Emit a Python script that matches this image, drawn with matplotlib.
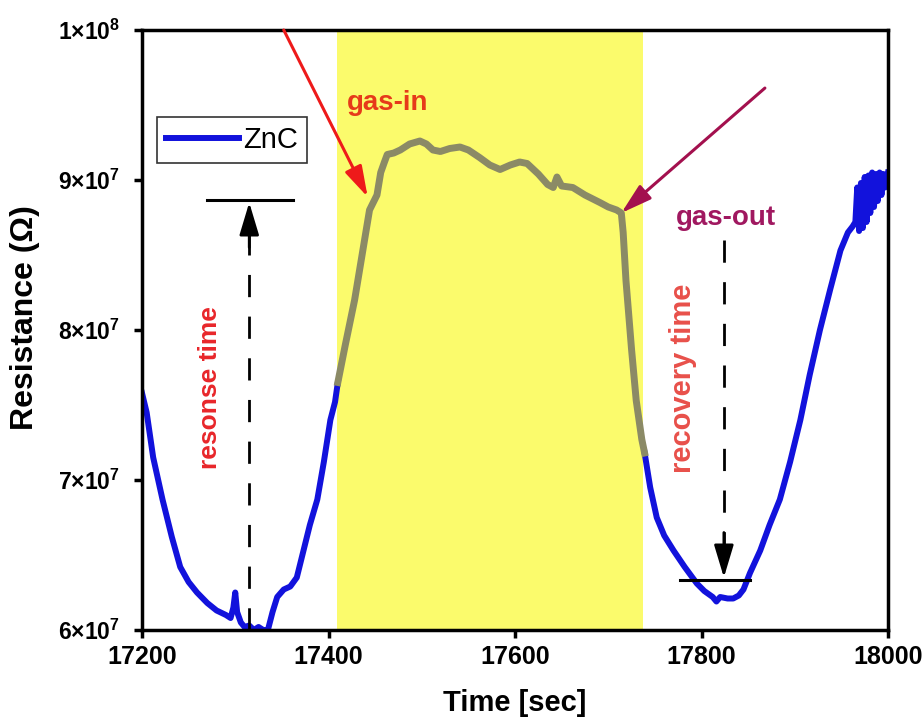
import matplotlib
matplotlib.use("Agg")
import matplotlib.pyplot as plt
import numpy as np

plt.rcParams['font.family'] = ['Liberation Sans', 'DejaVu Sans']
plt.rcParams['mathtext.fontset'] = 'custom'
plt.rcParams['mathtext.rm'] = 'Liberation Sans:bold'
plt.rcParams['mathtext.bf'] = 'Liberation Sans:bold'
plt.rcParams['mathtext.default'] = 'rm'

SCALE = 1e7

# ---- data (time in s, resistance in units of 1e7 Ohm) ----
t_before = [17200, 17205, 17212, 17222, 17232, 17241, 17250, 17259, 17270, 17280,
            17290, 17295, 17298, 17300, 17302, 17306, 17310, 17315, 17320, 17325,
            17330, 17335, 17340, 17345, 17352, 17359, 17366, 17372, 17380, 17388,
            17395, 17402, 17407, 17410]
r_before = [7.58, 7.45, 7.15, 6.87, 6.62, 6.42, 6.32, 6.25, 6.18, 6.13,
            6.10, 6.08, 6.15, 6.25, 6.12, 6.05, 6.02, 6.03, 6.00, 6.02,
            6.00, 6.00, 6.12, 6.22, 6.27, 6.29, 6.35, 6.50, 6.70, 6.87,
            7.12, 7.40, 7.52, 7.65]

t_gas = [17410, 17418, 17428, 17436, 17444, 17452, 17456, 17460, 17463, 17470,
         17477, 17487, 17498, 17505, 17512, 17520, 17530, 17541, 17550, 17562,
         17573, 17584, 17595, 17605, 17613, 17625, 17635, 17641, 17645, 17650,
         17662, 17675, 17691, 17700, 17709, 17714, 17716, 17719, 17725, 17730,
         17736, 17739]
r_gas = [7.65, 7.90, 8.20, 8.50, 8.80, 8.90, 9.05, 9.12, 9.17, 9.18,
         9.20, 9.24, 9.26, 9.24, 9.20, 9.19, 9.21, 9.22, 9.20, 9.15,
         9.10, 9.07, 9.10, 9.12, 9.11, 9.04, 8.97, 8.95, 9.02, 8.96,
         8.95, 8.90, 8.85, 8.82, 8.80, 8.78, 8.65, 8.33, 7.87, 7.53,
         7.27, 7.18]

t_after = [17739, 17745, 17752, 17760, 17770, 17782, 17795, 17803, 17812, 17816,
           17820, 17828, 17834, 17840, 17845, 17852, 17863, 17873, 17884, 17895,
           17906, 17916, 17927, 17938, 17949, 17957, 17962, 17965, 17967, 17969,
           17971, 17973, 17975, 17977, 17979, 17981, 17983, 17985, 17987, 17989,
           17991, 17993, 17995, 17997, 18000]
r_after = [7.18, 6.95, 6.75, 6.63, 6.53, 6.42, 6.31, 6.26, 6.22, 6.19,
           6.22, 6.21, 6.21, 6.23, 6.27, 6.38, 6.53, 6.70, 6.87, 7.12,
           7.40, 7.70, 8.00, 8.27, 8.53, 8.65, 8.69, 8.72, 8.95, 8.66,
           8.98, 8.68, 9.02, 8.72, 9.03, 8.78, 9.05, 8.82, 9.04, 8.86,
           9.05, 8.90, 9.04, 8.95, 9.05]

gas_window = [17409, 17737]
x_ticks = [17200, 17400, 17600, 17800, 18000]
y_ticks = [6, 7, 8, 9, 10]
y_tick_labels = [r'$6{\times}10^{7}$', r'$7{\times}10^{7}$', r'$8{\times}10^{7}$',
                 r'$9{\times}10^{7}$', r'$1{\times}10^{8}$']

# response / recovery markers
resp_t, resp_r0, resp_r1 = 17315, 6.0, 8.85
resp_bar = ([17270, 17362], 8.867)
rec_t, rec_r0, rec_r1 = 17824, 8.60, 6.35
rec_bar = ([17777, 17852], 6.333)

fig = plt.figure(figsize=(9.23, 7.24), dpi=100)
ax = fig.add_axes([142/923, 94/724, 746/923, 600/724])

ax.axvspan(gas_window[0], gas_window[1], color='#fbfb6c', zorder=0, lw=0)

blue = '#1212dc'
gray = '#8b8a66'
ln, = ax.plot(t_before, np.array(r_before) * SCALE, color=blue, lw=4.3,
              solid_joinstyle='round', zorder=2, label='ZnC')
ax.plot(t_after, np.array(r_after) * SCALE, color=blue, lw=4.3,
        solid_joinstyle='round', zorder=2)
ax.plot(t_gas, np.array(r_gas) * SCALE, color=gray, lw=5,
        solid_joinstyle='round', zorder=3)

ax.set_xlim(17200, 18000)
ax.set_ylim(6e7, 1e8)
ax.set_xticks(x_ticks)
ax.set_xticklabels([str(v) for v in x_ticks], fontsize=18, fontweight='bold')
ax.set_yticks(np.array(y_ticks) * SCALE)
ax.set_yticklabels(y_tick_labels, fontsize=16.5)

for s in ax.spines.values():
    s.set_linewidth(2.5)
ax.tick_params(axis='both', direction='out', length=6, width=2.5,
               top=False, right=False)
ax.tick_params(axis='x', pad=5)
ax.tick_params(axis='y', pad=10)

ax.set_xlabel('Time [sec]', fontsize=21, fontweight='bold')
ax.set_ylabel('Resistance (Ω)', fontsize=23, fontweight='bold')
ax.xaxis.set_label_coords(0.5, -0.098)
ax.yaxis.set_label_coords(-0.137, 0.52)

leg = ax.legend(handles=[ln], loc='upper left', bbox_to_anchor=(0.02, 0.855),
                fontsize=21, frameon=True, fancybox=False, borderpad=0.3,
                handlelength=2.5, handletextpad=0.15, borderaxespad=0)
leg.get_frame().set_edgecolor('black')
leg.get_frame().set_linewidth(1.2)

# gas-in arrow and text
ax.annotate('', xy=(17442, 8.887e7), xytext=(17352, 1.0e8),
            arrowprops=dict(arrowstyle='-|>,head_length=0.75,head_width=0.22',
                            color='#ee1a1a', lw=2.2, mutation_scale=25,
                            shrinkA=0, shrinkB=0),
            annotation_clip=False, zorder=5)
ax.text(17420, 9.513e7, 'gas-in', color='#e63a1a', fontsize=20,
        fontweight='bold', ha='left', va='center', zorder=5)

# gas-out arrow and text
ax.annotate('', xy=(17714, 8.78e7), xytext=(17868, 9.613e7),
            arrowprops=dict(arrowstyle='-|>,head_length=0.75,head_width=0.22',
                            color='#a3104e', lw=2.2, mutation_scale=25,
                            shrinkA=0, shrinkB=0),
            zorder=5)
ax.text(17773, 8.747e7, 'gas-out', color='#a01860', fontsize=20,
        fontweight='bold', ha='left', va='center', zorder=5)

# response time marker
ax.plot(resp_bar[0], [resp_bar[1] * SCALE] * 2, color='black', lw=2.2, zorder=4)
ax.plot([resp_t, resp_t], [resp_r0 * SCALE, (resp_r1 - 0.2) * SCALE],
        color='black', lw=2, linestyle=(0, (8, 7)), zorder=4, clip_on=False)
ax.annotate('', xy=(resp_t, resp_r1 * SCALE), xytext=(resp_t, (resp_r1 - 0.3) * SCALE),
            arrowprops=dict(arrowstyle='-|>,head_length=1.0,head_width=0.3',
                            color='black', lw=2, mutation_scale=20,
                            shrinkA=0, shrinkB=0), zorder=4)
ax.text(17273, 7.613e7, 'resonse time', color='#e8262a', fontsize=19,
        fontweight='bold', rotation=90, ha='center', va='center', zorder=5)

# recovery time marker
ax.plot(rec_bar[0], [rec_bar[1] * SCALE] * 2, color='black', lw=2.2, zorder=4)
ax.plot([rec_t, rec_t], [rec_r0 * SCALE, (rec_r1 + 0.2) * SCALE],
        color='black', lw=2, linestyle=(0, (8, 7)), zorder=4)
ax.annotate('', xy=(rec_t, rec_r1 * SCALE), xytext=(rec_t, (rec_r1 + 0.3) * SCALE),
            arrowprops=dict(arrowstyle='-|>,head_length=1.0,head_width=0.3',
                            color='black', lw=2, mutation_scale=20,
                            shrinkA=0, shrinkB=0), zorder=4)
ax.text(17780, 7.68e7, 'recovery time', color='#e8504a', fontsize=21,
        fontweight='bold', rotation=90, ha='center', va='center', zorder=5)

fig.savefig('out.png', dpi=100)
